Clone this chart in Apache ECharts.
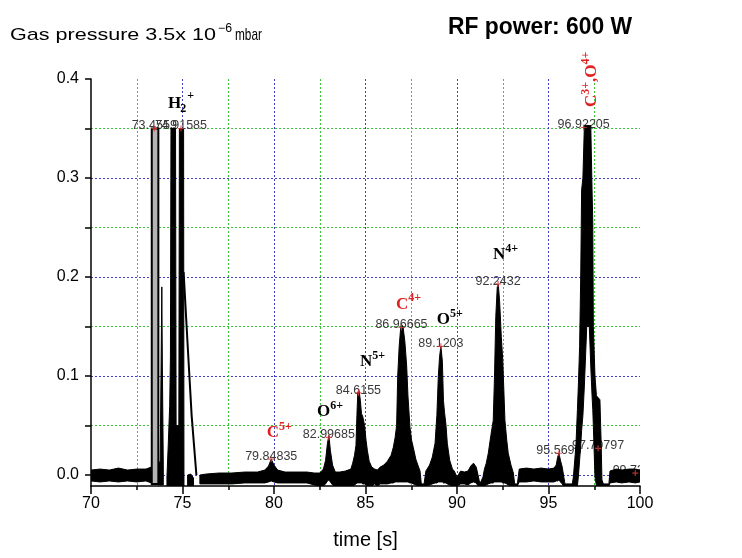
<!DOCTYPE html>
<html><head><meta charset="utf-8">
<script src="https://cdn.jsdelivr.net/npm/echarts@6/dist/echarts.min.js"></script>
<style>html,body{margin:0;padding:0;background:#fff}#c{width:742px;height:558px}</style>
</head><body><div id="c"></div>
<script>
// ---------- data ----------
// signal envelope: time [s], upper and lower edge of the noisy trace; null separates pieces
const traceTime = [
  70, 70.5, 71, 71.5, 72, 72.5, 73, 73.3, null,
  73.68, 73.78, 73.83, 73.87, 73.9, 73.95, null,
  74.15, 74.22, 74.3, 74.34, 74.37, 74.62, 74.65, 74.8, 74.83, 75.06, 75.08, null,
  75.28, 75.45, 75.6, null,
  75.95, 76.3, 77.0, 77.7, 78.4, 79.1, 79.5, 79.7, 79.85, 80.0, 80.2, 80.6, 81.2, 81.8, 82.2, 82.5,
  82.7, 82.82, 82.92, 83.0, 83.08, 83.2, 83.35,
  83.6, 83.9, 84.2,
  84.3, 84.4, 84.48, 84.53, 84.58, 84.66, 84.72, 84.78, 84.85, 84.95, 85.03, 85.1, 85.2, 85.34,
  85.5, 85.65, 85.8,
  86.0, 86.2, 86.4, 86.52, 86.62, 86.7, 86.76, 86.84, 86.92, 86.97, 87.05, 87.15, 87.25, 87.32, 87.43, 87.52, 87.61, 87.75, 87.9, 87.98,
  88.05, 88.2,
  88.3, 88.5, 88.65, 88.8, 88.9, 88.98, 89.05, 89.12, 89.2, 89.26, 89.32, 89.4, 89.47, 89.6, 89.75,
  89.85, 90.0, 90.2, 90.4, 90.6, 90.75, 90.9, 91.05, 91.15, 91.25, 91.42,
  91.5, 91.6, 91.71, 91.85, 91.98, 92.05, 92.12, 92.2, 92.26, 92.33, 92.42, 92.5, 92.62, 92.72, 92.8, 92.95, 93.08,
  93.15, 93.3,
  93.4, 93.8, 94.2, 94.6, 95.0, 95.3,
  95.42, 95.5, 95.57, 95.65, 95.75, 95.82,
  95.9, 96.3,
  96.36, 96.5, 96.58, 96.63, 96.7, 96.76, 96.81, 96.88, 96.96, 97.09, 97.16, null,
  97.16, 97.23, 97.31, 97.38, 97.42, 97.45, 97.54, 97.62, 97.72, 97.81, 97.88, 97.92,
  98.0, 98.3,
  98.36, 98.7, 99.0, 99.4, 99.74, 100
];
const traceHigh = [
  0.005, 0.006, 0.005, 0.007, 0.005, 0.006, 0.006, 0.008, null,
  0.012, 0.014, 0.11, 0.19, 0.11, 0.01, null,
  -0.002, 0.03, 0.07, 0.12, 0.35, 0.35, 0.05, 0.05, 0.35, 0.35, -0.002, null,
  0.0, 0.001, -0.003, null,
  0.0, 0.001, 0.002, 0.002, 0.003, 0.003, 0.005, 0.009, 0.016, 0.01, 0.005, 0.003, 0.003, 0.003, 0.002, 0.002,
  0.006, 0.015, 0.032, 0.04, 0.025, 0.01, 0.003,
  0.003, 0.004, 0.006,
  0.012, 0.02, 0.03, 0.06, 0.084, 0.084, 0.075, 0.062, 0.059, 0.05, 0.035, 0.025, 0.014, 0.008,
  0.006, 0.005, 0.008,
  0.01, 0.014, 0.02, 0.028, 0.038, 0.05, 0.1, 0.13, 0.148, 0.152, 0.15, 0.135, 0.11, 0.08, 0.048, 0.035, 0.028, 0.016, 0.008, 0.004,
  -0.009, -0.009,
  0.004, 0.01, 0.018, 0.032, 0.06, 0.1, 0.12, 0.13, 0.115, 0.075, 0.063, 0.05, 0.032, 0.015, 0.006,
  0.004, -0.002, 0.004, 0.003, 0.004, 0.009, 0.012, 0.008, 0.0, -0.009, -0.002,
  0.006, 0.012, 0.022, 0.04, 0.055, 0.1, 0.16, 0.19, 0.192, 0.175, 0.14, 0.116, 0.055, 0.035, 0.022, 0.01, 0.002,
  -0.009, -0.009,
  0.006, 0.007, 0.006, 0.007, 0.006, 0.007,
  0.01, 0.018, 0.022, 0.015, 0.008, 0.0,
  -0.009, -0.009,
  -0.002, 0.03, 0.066, 0.09, 0.13, 0.2, 0.288, 0.3, 0.353, 0.353, 0.353, null,
  0.353, 0.353, 0.353, 0.288, 0.254, 0.15, 0.1, 0.08, 0.078, 0.076, 0.03, -0.005,
  -0.009, -0.009,
  0.004, 0.006, 0.005, 0.006, 0.006, 0.005
];
const traceLow = [
  -0.006, -0.007, -0.006, -0.007, -0.006, -0.007, -0.006, -0.008, null,
  -0.01, -0.01, -0.01, -0.01, -0.01, -0.01, null,
  -0.011, -0.011, -0.011, -0.011, -0.011, -0.011, -0.011, -0.011, -0.011, -0.011, -0.011, null,
  -0.011, -0.011, -0.011, null,
  -0.009, -0.009, -0.009, -0.009, -0.008, -0.008, -0.008, -0.007, -0.006, -0.007, -0.008, -0.008, -0.008, -0.008, -0.01, -0.011,
  -0.011, -0.009, -0.006, -0.005, -0.007, -0.01, -0.011,
  -0.011, -0.011, -0.011,
  -0.011, -0.01, -0.009, -0.008, -0.008, -0.008, -0.008, -0.008, -0.009, -0.009, -0.01, -0.011, -0.011, -0.011,
  -0.009, -0.011, -0.009,
  -0.009, -0.009, -0.008, -0.008, -0.007, -0.007, -0.007, -0.007, -0.007, -0.007, -0.007, -0.007, -0.007, -0.007, -0.008, -0.008, -0.009, -0.01, -0.011, -0.011,
  -0.011, -0.011,
  -0.011, -0.01, -0.009, -0.008, -0.008, -0.007, -0.007, -0.007, -0.007, -0.008, -0.008, -0.008, -0.009, -0.01, -0.011,
  -0.011, -0.011, -0.009, -0.009, -0.01, -0.008, -0.007, -0.008, -0.011, -0.011, -0.011,
  -0.011, -0.01, -0.009, -0.008, -0.008, -0.007, -0.007, -0.007, -0.007, -0.007, -0.007, -0.008, -0.008, -0.009, -0.01, -0.011, -0.011,
  -0.011, -0.011,
  -0.007, -0.007, -0.006, -0.007, -0.007, -0.007,
  -0.006, -0.006, -0.005, -0.007, -0.009, -0.011,
  -0.011, -0.011,
  -0.011, -0.011, -0.011, -0.002, 0.015, 0.03, 0.045, 0.06, 0.09, 0.15, 0.15, null,
  0.15, 0.15, 0.11, 0.08, 0.066, 0.05, -0.002, -0.011, -0.011, -0.011, -0.011, -0.011,
  -0.011, -0.011,
  -0.008, -0.007, -0.008, -0.007, -0.008, -0.007
];
// grey saturated block near 73.5 s
const greyTime = [73.32, 73.68];
const greyHigh = [0.35, 0.35];
const greyLow = [-0.009, -0.009];
// descending tail right of the H2+ peak
const tailTime = [75.06, 75.3, 75.5, 75.76];
const tailValue = [0.205, 0.125, 0.06, 0.0];
// labelled peak positions
const peakTime = [73.4559, 74.91585, 79.84835, 82.99685, 84.6155, 86.96665, 89.1203, 92.2432, 95.5695, 96.92205, 97.70797, 99.7395];
const peakValue = [0.35, 0.35, 0.016, 0.038, 0.083, 0.149, 0.13, 0.193, 0.022, 0.351, 0.027, 0.002];
const peakText = ['73.4559', '74.91585', '79.84835', '82.99685', '84.6155', '86.96665', '89.1203', '92.2432', '95.5695', '96.92205', '97.70797', '99.7395'];
// ion annotations
const ionMain = ['H', 'C', 'O', 'N', 'C', 'O', 'N'];
const ionSub = ['2', '', '', '', '', '', ''];
const ionSup = ['+', '5+', '6+', '5+', '4+', '5+', '4+'];
const ionRed = [false, true, false, false, true, false, false];
const ionTime = [74.21, 79.60, 82.35, 84.70, 86.67, 88.89, 91.97];
const ionValue = [0.3747, 0.0429, 0.0641, 0.1146, 0.1724, 0.1566, 0.2222];
const ionRotParts = [['C', '3+'], [',', ''], ['O', '4+']];
const ionRotAt = [97.36, 0.3717];
// axes
const xMin = 70, xMax = 100, xStep = 5;
const yMin = -0.0111, yMax = 0.4;

// ---------- helpers ----------
function splitSegments(T, H, L) {
  const segs = []; let cur = null;
  for (let i = 0; i < T.length; i++) {
    if (T[i] === null) { cur = null; continue; }
    if (!cur) { cur = { t: [], h: [], l: [] }; segs.push(cur); }
    cur.t.push(T[i]); cur.h.push(H[i]); cur.l.push(L[i]);
  }
  return segs;
}
const segs = splitSegments(traceTime, traceHigh, traceLow);
const greySegs = [{ t: greyTime, h: greyHigh, l: greyLow }];

const mctx = document.createElement('canvas').getContext('2d');
function tw(text, font) { mctx.font = font; return mctx.measureText(text).width; }

function bandRender(list, fill, stroke, lw) {
  return function (params, api) {
    const s = list[api.value(2)];
    const pts = [];
    for (let i = 0; i < s.t.length; i++) pts.push(api.coord([s.t[i], s.h[i]]));
    for (let i = s.t.length - 1; i >= 0; i--) pts.push(api.coord([s.t[i], s.l[i]]));
    return { type: 'polygon', shape: { points: pts }, style: { fill: fill, stroke: stroke, lineWidth: lw } };
  };
}

const SANS = '"Liberation Sans", Arial, sans-serif';
const SERIF = '"Liberation Serif", "Times New Roman", serif';
const FMAIN = 'bold 17px ' + SERIF;
const FSUP = 'bold 12px ' + SERIF;
const BLUE = '#4040c4', GREEN = '#3cc43c', RED = '#e02424';

function txt(text, x, y, font, fill, align) {
  return { type: 'text', x: x, y: y, style: { text: text, font: font, fill: fill,
    textAlign: align || 'left', align: align || 'left', textVerticalAlign: 'middle', verticalAlign: 'middle' } };
}

function ionRender(params, api) {
  const i = api.value(2);
  const p = api.coord([ionTime[i], ionValue[i]]);
  const col = ionRed[i] ? RED : '#000';
  const w = tw(ionMain[i], FMAIN);
  const ch = [txt(ionMain[i], 0, 0, FMAIN, col)];
  let x = w;
  if (ionSub[i]) { ch.push(txt(ionSub[i], x - 1, 5, FSUP, col)); x += tw(ionSub[i], FSUP); }
  ch.push(txt(ionSup[i], x, ionSub[i] ? -8.5 : -6, FSUP, col));
  return { type: 'group', x: p[0], y: p[1], children: ch };
}

function ionRotRender(params, api) {
  const p = api.coord(ionRotAt);
  const ch = []; let x = 0;
  ionRotParts.forEach(function (pr) {
    ch.push(txt(pr[0], x, 0, FMAIN, RED)); x += tw(pr[0], FMAIN);
    if (pr[1]) { ch.push(txt(pr[1], x, -6, FSUP, RED)); x += tw(pr[1], FSUP); }
  });
  return { type: 'group', x: p[0], y: p[1], rotation: Math.PI / 2, children: ch };
}

function peakRender(params, api) {
  const i = api.value(2);
  const p = api.coord([peakTime[i], peakValue[i]]);
  return txt(peakText[i], p[0], p[1] - 2.5, '12.5px ' + SANS, '#3a3a3a', 'center');
}

function fitText(text, x, y, font, fill, width) {
  const s = width / tw(text, font);
  return { type: 'text', x: x, y: y, scaleX: s, style: { text: text, font: font, fill: fill,
    textAlign: 'left', align: 'left', textVerticalAlign: 'middle', verticalAlign: 'middle' } };
}

// ---------- chart ----------
const chart = echarts.init(document.getElementById('c'), null, { renderer: 'canvas' });
chart.setOption({
  backgroundColor: '#fff',
  animation: false,
  grid: { left: 91, right: 102, top: 79, bottom: 72, containLabel: false, outerBoundsMode: 'none' },
  graphic: [
    fitText('Gas pressure 3.5x 10', 10, 35, '17px ' + SANS, '#000', 206),
    fitText('\u22126', 218, 29, '12px ' + SANS, '#000', 14),
    fitText('mbar', 235, 35, '17px ' + SANS, '#000', 27),
    fitText('RF power: 600 W', 448, 28, 'bold 23px ' + SANS, '#000', 184)
  ],
  xAxis: {
    type: 'value', min: xMin, max: xMax, interval: xStep, position: 'bottom',
    name: 'time [s]', nameLocation: 'middle', nameGap: 44,
    nameTextStyle: { fontSize: 20, color: '#000', fontFamily: SANS },
    axisLine: { show: true, onZero: false, lineStyle: { color: '#000', width: 1.5 } },
    axisTick: { show: true, length: 8, lineStyle: { color: '#000', width: 1.5 } },
    minorTick: { show: true, splitNumber: 2, length: 4, lineStyle: { color: '#000', width: 1.5 } },
    axisLabel: { fontSize: 16, color: '#000', margin: 10, fontFamily: SANS },
    splitLine: { show: true, showMinLine: false, showMaxLine: false, lineStyle: { color: BLUE, width: 1, type: [2, 2] } },
    minorSplitLine: { show: true, lineStyle: { color: GREEN, width: 1, type: [2, 2] } }
  },
  yAxis: {
    type: 'value', min: yMin, max: yMax, splitNumber: 8,
    axisLine: { show: true, onZero: false, lineStyle: { color: '#000', width: 1.5 } },
    axisTick: { show: true, length: 6, lineStyle: { color: '#000', width: 1.5 } },
    axisLabel: { fontSize: 16, color: '#000', margin: 12, fontFamily: SANS, showMinLabel: false,
      formatter: function (v) { const k = Math.round(v * 20); if (Math.abs(v * 20 - k) > 1e-6) return ''; return k % 2 === 0 ? (k / 20).toFixed(1) : ''; } },
    splitLine: { show: true, showMinLine: false, showMaxLine: false, lineStyle: { color: [BLUE, GREEN], width: 1, type: [2, 2] } }
  },
  series: [
    { type: 'custom', name: 'peak labels', clip: true, silent: true,
      data: peakTime.map(function (t, i) { return [t, peakValue[i], i]; }),
      encode: { x: 0, y: 1 }, renderItem: peakRender },
    { type: 'custom', name: 'signal', clip: true, silent: true,
      data: segs.map(function (s, i) { return [s.t[0], s.h[0], i]; }),
      encode: { x: 0, y: 1 }, renderItem: bandRender(segs, '#000', '#000', 1) },
    { type: 'custom', name: 'grey', clip: true, silent: true,
      data: greySegs.map(function (s, i) { return [s.t[0], s.h[0], i]; }),
      encode: { x: 0, y: 1 }, renderItem: bandRender(greySegs, '#b4b4b4', '#000', 2) },
    { type: 'line', name: 'tail', clip: true, silent: true, showSymbol: false, symbol: 'none',
      data: tailTime.map(function (t, i) { return [t, tailValue[i]]; }),
      lineStyle: { color: '#000', width: 2 } },
    { type: 'scatter', name: 'marks', silent: true,
      data: peakTime.map(function (t, i) { return [t, peakValue[i]]; }),
      symbol: 'path://M4,0H6V4H10V6H6V10H4V6H0V4H4Z', symbolSize: 6,
      itemStyle: { color: '#e03c3c' } },
    { type: 'custom', name: 'ions', clip: false, silent: true,
      data: ionTime.map(function (t, i) { return [t, ionValue[i], i]; }),
      encode: { x: 0, y: 1 }, renderItem: ionRender },
    { type: 'custom', name: 'ions rotated', clip: false, silent: true,
      data: [[ionRotAt[0], ionRotAt[1], 0]],
      encode: { x: 0, y: 1 }, renderItem: ionRotRender }
  ]
});
</script></body></html>
